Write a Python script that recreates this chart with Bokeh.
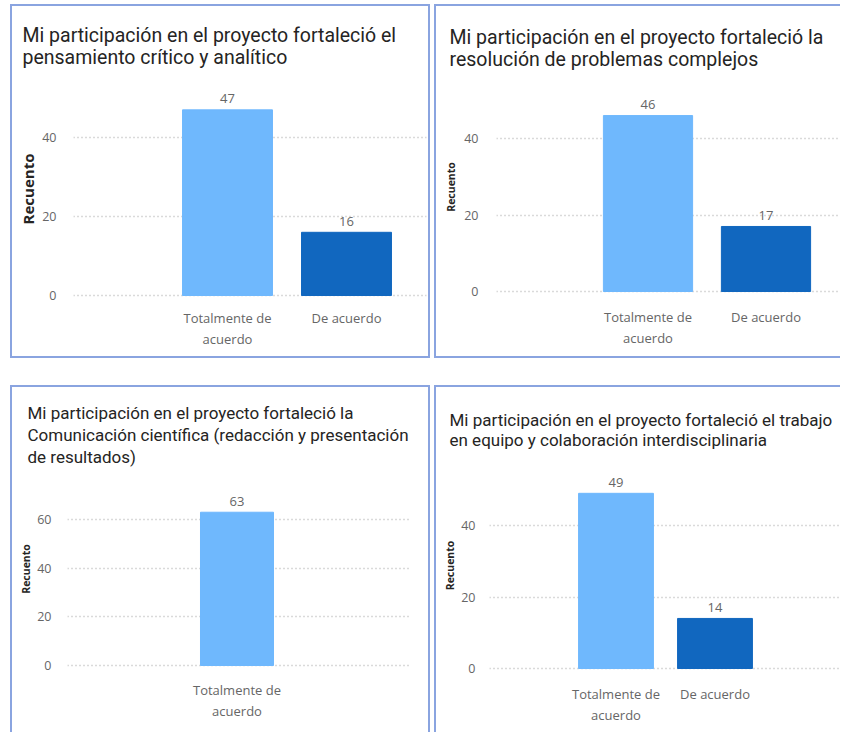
import textwrap
from bokeh.plotting import figure
from bokeh.models import Range1d, FixedTicker, Spacer, ColumnDataSource
from bokeh.layouts import row, column
from bokeh.embed import file_html
from bokeh.resources import INLINE

# ---------------- data ----------------
y_axis_label = "Recuento"

title_1 = ["Mi participación en el proyecto fortaleció el",
           "pensamiento crítico y analítico"]
categories_1 = ["Totalmente de acuerdo", "De acuerdo"]
values_1 = [47, 16]
y_ticks_1 = [0, 20, 40]

title_2 = ["Mi participación en el proyecto fortaleció la",
           "resolución de problemas complejos"]
categories_2 = ["Totalmente de acuerdo", "De acuerdo"]
values_2 = [46, 17]
y_ticks_2 = [0, 20, 40]

title_3 = ["Mi participación en el proyecto fortaleció la",
           "Comunicación científica (redacción y presentación",
           "de resultados)"]
categories_3 = ["Totalmente de acuerdo"]
values_3 = [63]
y_ticks_3 = [0, 20, 40, 60]

title_4 = ["Mi participación en el proyecto fortaleció el trabajo",
           "en equipo y colaboración interdisciplinaria"]
categories_4 = ["Totalmente de acuerdo", "De acuerdo"]
values_4 = [49, 14]
y_ticks_4 = [0, 20, 40]

# ---------------- styles ----------------
BAR_COLORS = {"Totalmente de acuerdo": "#6FB8FD", "De acuerdo": "#1167BF"}
BORDER_COLOR = "#8AA4E0"
TITLE_COLOR = "#252423"
GRAY = "#666666"
FONT = "Open Sans"
TITLE_FONT = "Roboto"


def make_panel(title_lines, cats, vals, yticks, L):
    W, H = L["w"], L["h"]
    ppu, zy = L["ppu"], L["zy"]
    pad = 2
    y0 = -pad / ppu
    y1 = (zy - L["ft"]) / ppu
    mb = int(H - (zy + pad))
    x0 = (L["fl"] - L["c0"]) / L["step"]
    x1 = (L["fr"] - L["c0"]) / L["step"]
    p = figure(width=W, height=H, output_backend="svg", toolbar_location=None,
               x_range=Range1d(x0, x1), y_range=Range1d(y0, y1),
               min_border_left=int(L["fl"]), min_border_right=int(W - L["fr"]),
               min_border_top=int(L["ft"]), min_border_bottom=mb)
    p.outline_line_color = None
    p.background_fill_color = "white"
    p.border_fill_color = "white"

    # title
    p.title.text = "\n".join(title_lines)
    p.title.align = "left"
    p.title.offset = L["tx"] - L["fl"]
    p.title.standoff = L["ts"]
    p.title.text_font = TITLE_FONT
    p.title.text_font_size = L["tfs"]
    p.title.text_font_style = "normal"
    p.title.text_color = TITLE_COLOR
    p.title.text_line_height = L["tlh"]

    xs = list(range(len(cats)))
    src = ColumnDataSource(dict(x=xs, top=vals,
                                color=[BAR_COLORS[c] for c in cats],
                                label=[str(v) for v in vals]))
    p.vbar(x="x", top="top", width=0.756, color="color", source=src)
    p.text(x="x", y="top", text="label", source=src, text_align="center",
           text_baseline="alphabetic", y_offset=-11, text_font_size="13px",
           text_color=GRAY, text_font={"value": FONT})

    # x axis
    p.xaxis.ticker = FixedTicker(ticks=xs)
    p.xaxis.major_label_overrides = {i: textwrap.fill(c, 14) for i, c in enumerate(cats)}
    p.xaxis.axis_line_color = None
    p.xaxis.major_tick_line_color = None
    p.xaxis.minor_tick_line_color = None
    p.xaxis.major_label_text_font_size = "13px"
    p.xaxis.major_label_text_color = GRAY
    p.xaxis.major_label_text_font = FONT
    p.xaxis.major_label_standoff = L["xs"]
    p.xgrid.grid_line_color = None

    # y axis
    p.yaxis.ticker = FixedTicker(ticks=yticks)
    p.yaxis.axis_label = y_axis_label
    p.yaxis.axis_label_text_font_size = L["ylfs"]
    p.yaxis.axis_label_text_font_style = "bold"
    p.yaxis.axis_label_text_color = TITLE_COLOR
    p.yaxis.axis_label_text_font = FONT
    p.yaxis.axis_label_standoff = L["yls"]
    p.yaxis.axis_line_color = None
    p.yaxis.major_tick_line_color = None
    p.yaxis.minor_tick_line_color = None
    p.yaxis.major_label_text_font_size = "12.5px"
    p.yaxis.major_label_text_color = GRAY
    p.yaxis.major_label_text_font = FONT
    p.yaxis.major_label_standoff = L["ys"]
    p.ygrid.grid_line_color = "#B4B4B4"
    p.ygrid.grid_line_dash = "1 3"
    p.ygrid.grid_line_width = 1.3
    return p


def bar(w, h):
    return Spacer(width=w, height=h, styles={"background-color": BORDER_COLOR})


# canvas-relative layout (pixels)
L1 = dict(w=416, h=350, fl=61, fr=414, ft=74, zy=289, ppu=3.95, c0=215, step=119,
          tx=10, ts=22, tfs="19.5px", tlh=0.96, xs=5, ys=11, yls=1, ylfs="15px")
L2 = dict(w=404, h=350, fl=60, fr=404, ft=74, zy=285, ppu=3.825, c0=211.5, step=118,
          tx=13, ts=18, tfs="19.5px", tlh=0.96, xs=8, ys=12, yls=3, ylfs="10.5px")
L3 = dict(w=416, h=345, fl=55, fr=397, ft=83, zy=278, ppu=2.433, c0=224.5, step=96.6,
          tx=15, ts=6, tfs="17px", tlh=1.12, xs=7, ys=10, yls=1, ylfs="10.5px")
L4 = dict(w=404, h=345, fl=53, fr=404, ft=73, zy=281, ppu=3.575, c0=179.5, step=99,
          tx=13, ts=21, tfs="17px", tlh=1.0, xs=8, ys=8, yls=1, ylfs="10.5px")

p1 = make_panel(title_1, categories_1, values_1, y_ticks_1, L1)
p2 = make_panel(title_2, categories_2, values_2, y_ticks_2, L2)
p3 = make_panel(title_3, categories_3, values_3, y_ticks_3, L3)
p4 = make_panel(title_4, categories_4, values_4, y_ticks_4, L4)

box1 = row(bar(2, 354), column(bar(416, 2), p1, bar(416, 2)), bar(2, 354))
box2 = row(bar(2, 354), column(bar(404, 2), p2, bar(404, 2)))
box3 = row(bar(2, 347), column(bar(416, 2), p3), bar(2, 347))
box4 = row(bar(2, 347), column(bar(404, 2), p4))

layout = column(
    Spacer(height=4),
    row(Spacer(width=10), box1, Spacer(width=4), box2),
    Spacer(height=27),
    row(Spacer(width=10), box3, Spacer(width=4), box4),
)

open("out.html", "w").write(file_html(layout, INLINE))
